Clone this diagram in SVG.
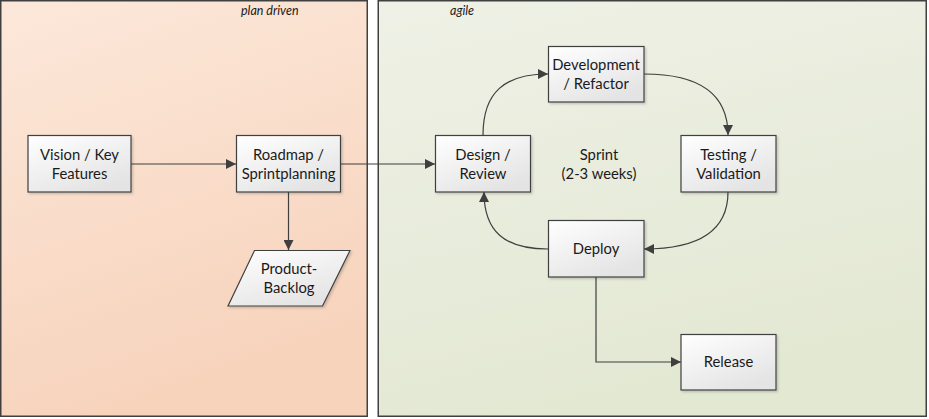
<svg xmlns="http://www.w3.org/2000/svg" width="929" height="419" viewBox="0 0 929 419">
<defs>
<linearGradient id="gLeft" x1="0" y1="0" x2="0.3" y2="1">
<stop offset="0" stop-color="#fce8da"/>
<stop offset="1" stop-color="#f7d3bc"/>
</linearGradient>
<linearGradient id="gRight" x1="0" y1="0" x2="0.3" y2="1">
<stop offset="0" stop-color="#eff1e6"/>
<stop offset="1" stop-color="#e3e8d3"/>
</linearGradient>
<linearGradient id="gNode" x1="0" y1="0" x2="0.6" y2="1">
<stop offset="0" stop-color="#ffffff"/>
<stop offset="1" stop-color="#e4e4e4"/>
</linearGradient>
<marker id="arr" viewBox="0 0 10 10" refX="10" refY="5" markerWidth="10" markerHeight="10" markerUnits="userSpaceOnUse" orient="auto">
<path d="M0,0 L10,5 L0,10 Z" fill="#3f3f3f"/>
</marker>
<filter id="sh" x="-10%" y="-10%" width="130%" height="130%">
<feDropShadow dx="1.5" dy="1.5" stdDeviation="1" flood-color="#000" flood-opacity="0.18"/>
</filter>
</defs>
<style>
.panel{stroke:#404040;stroke-width:1.5}
.node{fill:url(#gNode);stroke:#404040;stroke-width:1.2;filter:url(#sh)}
.t{font-family:Lato,"Open Sans","Liberation Sans",sans-serif;font-size:14.8px;fill:#1a1a1a;text-anchor:middle}
.lbl{font-family:Lato,"Open Sans","Liberation Sans",sans-serif;font-size:12.5px;font-style:italic;fill:#1a1a1a}
.c{fill:none;stroke:#3f3f3f;stroke-width:1.2;marker-end:url(#arr)}
</style>
<rect width="929" height="419" fill="#ffffff"/>
<g id="lane-plan">
<rect class="panel" x="0.75" y="0.75" width="366.5" height="415.5" fill="url(#gLeft)"/>
<text class="lbl" x="241" y="15">plan driven</text>
</g>
<g id="lane-agile">
<rect class="panel" x="378.25" y="0.75" width="548" height="415.5" fill="url(#gRight)"/>
<text class="lbl" x="450" y="15">agile</text>
</g>
<g id="connectors">
<path class="c" d="M131,164 L236,164"/>
<path class="c" d="M340,164 L435,164"/>
<path class="c" d="M288.5,192 L288.5,250"/>
<path class="c" d="M483,135 C483,92 505,74 548,74"/>
<path class="c" d="M644,74 C700,74 728,94 728,135"/>
<path class="c" d="M728,192 C728,230 700,249 644,249"/>
<path class="c" d="M548,249 C505,249 484,232 484,192"/>
<path class="c" d="M596,277 L596,362 L681,362"/>
</g>
<g id="vision">
<rect class="node" x="28" y="135.5" width="103" height="56.5"/>
<text class="t" x="79.5" y="160">Vision / Key</text>
<text class="t" x="79.5" y="179">Features</text>
</g>
<g id="roadmap">
<rect class="node" x="236.5" y="135.5" width="104" height="56.5"/>
<text class="t" x="288.5" y="160">Roadmap /</text>
<text class="t" x="288.5" y="179">Sprintplanning</text>
</g>
<g id="backlog">
<path class="node" d="M254.5,250.5 L350,250.5 L322.5,306 L228,306 Z"/>
<text class="t" x="289" y="274">Product-</text>
<text class="t" x="289" y="293">Backlog</text>
</g>
<g id="design">
<rect class="node" x="435.5" y="135.5" width="95" height="56.5"/>
<text class="t" x="483" y="160">Design /</text>
<text class="t" x="483" y="179">Review</text>
</g>
<g id="development">
<rect class="node" x="548.5" y="46.5" width="95.5" height="55.5"/>
<text class="t" x="596" y="70">Development</text>
<text class="t" x="596" y="89">/ Refactor</text>
</g>
<g id="testing">
<rect class="node" x="681" y="135.5" width="95" height="56.5"/>
<text class="t" x="728.5" y="160">Testing /</text>
<text class="t" x="728.5" y="179">Validation</text>
</g>
<g id="deploy">
<rect class="node" x="548.5" y="220.5" width="95.5" height="56.5"/>
<text class="t" x="596" y="254">Deploy</text>
</g>
<g id="release">
<rect class="node" x="681" y="334.5" width="95" height="55.5"/>
<text class="t" x="728.5" y="367">Release</text>
</g>
<g id="sprint">
<text class="t" x="599" y="160">Sprint</text>
<text class="t" x="599" y="179">(2-3 weeks)</text>
</g>
</svg>
